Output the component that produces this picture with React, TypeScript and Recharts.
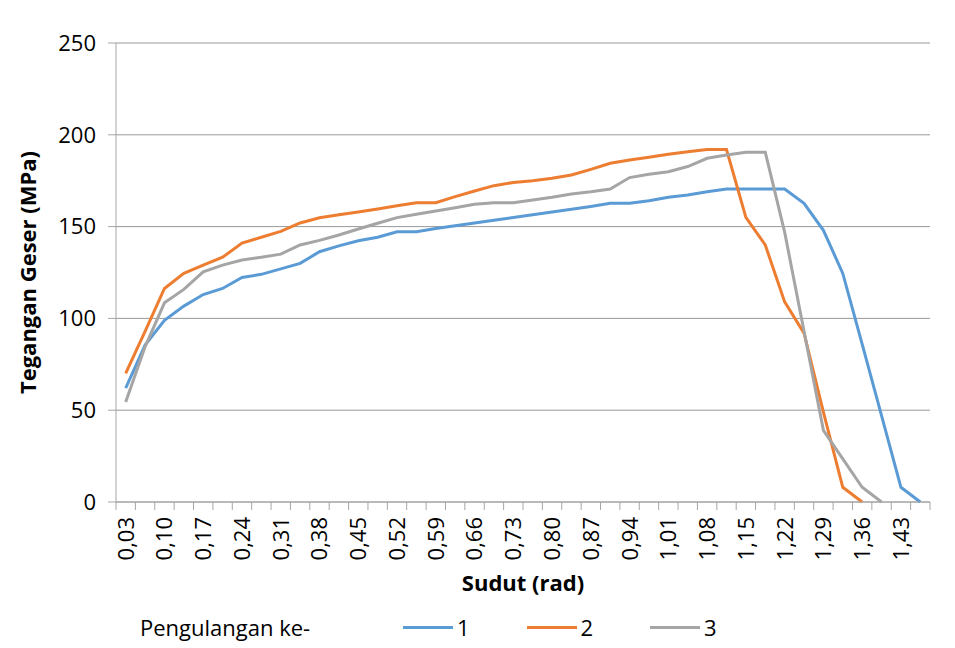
import React from 'react';
import { LineChart, Line, XAxis, YAxis, CartesianGrid, Legend } from 'recharts';

// Sudut (rad) categories
const categories = [
  '0,03', '0,07', '0,10', '0,14', '0,17', '0,21', '0,24', '0,28', '0,31', '0,35',
  '0,38', '0,42', '0,45', '0,49', '0,52', '0,56', '0,59', '0,63', '0,66', '0,70',
  '0,73', '0,77', '0,80', '0,84', '0,87', '0,91', '0,94', '0,98', '1,01', '1,05',
  '1,08', '1,12', '1,15', '1,19', '1,22', '1,26', '1,29', '1,33', '1,36', '1,40',
  '1,43', '1,47',
];

// Pengulangan ke-1
const series1 = [
  62, 85.5, 99, 106.7, 113, 116.3, 122.3, 124, 127, 130,
  136.3, 139.5, 142.3, 144.2, 147.2, 147.2, 149, 150.5, 152, 153.5,
  155, 156.5, 158, 159.4, 161, 162.7, 162.7, 164.1, 166, 167.2,
  169, 170.5, 170.5, 170.5, 170.5, 162.7, 148, 124.5, 86, 47,
  8, 0,
];

// Pengulangan ke-2
const series2 = [
  70, 93, 116.3, 124.5, 129, 133.3, 141, 144.2, 147.4, 152,
  154.8, 156.5, 158, 159.6, 161.4, 163, 163, 166.3, 169.4, 172.3,
  174, 175, 176.3, 178.1, 181.2, 184.5, 186.3, 187.8, 189.4, 190.8,
  192, 192, 155, 140, 109, 92, 49, 8, 0, null,
  null, null,
];

// Pengulangan ke-3
const series3 = [
  54.5, 84.5, 108.5, 115.8, 125.4, 129, 131.8, 133.3, 135, 140,
  142.5, 145.4, 148.7, 151.8, 154.9, 156.7, 158.5, 160.3, 162.2, 163,
  163, 164.5, 166, 167.8, 169, 170.5, 176.7, 178.5, 179.9, 182.7,
  187.2, 189, 190.5, 190.5, 147, 93, 39, 23.5, 8, 0,
  null, null,
];

const yTicks = [0, 50, 100, 150, 200, 250];
const seriesNames = ['1', '2', '3'];
const seriesColors = ['#5B9BD5', '#ED7D31', '#A5A5A5'];
const xTitle = 'Sudut (rad)';
const yTitle = 'Tegangan Geser (MPa)';
const legendTitle = 'Pengulangan ke-';

const data = categories.map((c, i) => ({
  x: c,
  s1: series1[i],
  s2: series2[i],
  s3: series3[i],
}));

const FONT = '"Open Sans", "DejaVu Sans", sans-serif';
const AXIS_COLOR = '#a6a6a6';
const GRID_COLOR = '#999999';
const FS = 22;

function XTick(props: any) {
  const { x, y, payload, index, visibleTicksCount } = props;
  const off = payload && payload.offset ? payload.offset : 0;
  const isLast = index === visibleTicksCount - 1;
  return (
    <g>
      <line x1={x - off} y1={y} x2={x - off} y2={y + 8} stroke={AXIS_COLOR} strokeWidth={1} />
      {isLast && (
        <line x1={x + off} y1={y} x2={x + off} y2={y + 8} stroke={AXIS_COLOR} strokeWidth={1} />
      )}
      {index % 2 === 0 && (
        <text
          transform={`translate(${x},${y + 15}) rotate(-90)`}
          textAnchor="end"
          dy="0.36em"
          fontSize={FS}
          fontFamily={FONT}
          fill="#000"
        >
          {payload.value}
        </text>
      )}
    </g>
  );
}

function YTitle(props: any) {
  const vb = props.viewBox || { x: 0, y: 0, width: 0, height: 0 };
  const cx = vb.x + 27;
  const cy = vb.y + vb.height / 2;
  return (
    <text
      transform={`translate(${cx},${cy}) rotate(-90)`}
      textAnchor="middle"
      dominantBaseline="central"
      fontSize={FS}
      fontWeight="bold"
      fontFamily={FONT}
      fill="#000"
    >
      {yTitle}
    </text>
  );
}

function XTitle(props: any) {
  const vb = props.viewBox || { x: 0, y: 0, width: 0, height: 0 };
  return (
    <text
      x={vb.x + vb.width / 2}
      y={vb.y + 80}
      textAnchor="middle"
      dominantBaseline="central"
      fontSize={FS}
      fontWeight="bold"
      fontFamily={FONT}
      fill="#000"
    >
      {xTitle}
    </text>
  );
}

function LegendContent(props: any) {
  const payload = props.payload || [];
  return (
    <div
      style={{
        position: 'relative',
        width: 955,
        height: 40,
        fontFamily: FONT,
        fontSize: FS,
        color: '#000',
      }}
    >
      <span style={{ position: 'absolute', left: 140, top: 4, lineHeight: '30px', whiteSpace: 'nowrap' }}>
        {legendTitle}
      </span>
      {payload.map((p: any, i: number) => (
        <div
          key={i}
          style={{
            position: 'absolute',
            left: 403 + i * 123.5,
            top: 4,
            height: 30,
            display: 'flex',
            alignItems: 'center',
            whiteSpace: 'nowrap',
          }}
        >
          <span style={{ display: 'inline-block', width: 50, height: 3, background: p.color, marginRight: 4 }} />
          <span style={{ lineHeight: '30px' }}>{p.value}</span>
        </div>
      ))}
    </div>
  );
}

export default function App() {
  return (
    <div style={{ position: 'absolute', left: 0, top: 0, width: 955, height: 648, background: '#ffffff' }}>
      <LineChart
        width={955}
        height={648}
        data={data}
        margin={{ top: 43, right: 25, bottom: 0, left: 0 }}
      >
        <CartesianGrid horizontal={true} vertical={false} stroke={GRID_COLOR} strokeWidth={1} />
        <XAxis
          dataKey="x"
          type="category"
          scale="band"
          interval={0}
          height={106}
          tickLine={false}
          tickSize={0}
          tickMargin={0}
          axisLine={{ stroke: AXIS_COLOR, strokeWidth: 1 }}
          tick={<XTick />}
          label={<XTitle />}
        />
        <YAxis
          type="number"
          domain={[0, 250]}
          ticks={yTicks}
          width={116}
          tickSize={8}
          tickMargin={12}
          tickLine={{ stroke: AXIS_COLOR }}
          axisLine={{ stroke: AXIS_COLOR, strokeWidth: 1 }}
          tick={{ fontSize: FS, fill: '#000', fontFamily: FONT }}
          label={<YTitle />}
        />
        <Legend
          verticalAlign="bottom"
          height={40}
          wrapperStyle={{ left: 0, bottom: 0, width: 955, height: 40 }}
          content={<LegendContent />}
        />
        <Line
          type="linear"
          dataKey="s1"
          name={seriesNames[0]}
          stroke={seriesColors[0]}
          strokeWidth={3}
          dot={false}
          activeDot={false}
          isAnimationActive={false}
        />
        <Line
          type="linear"
          dataKey="s2"
          name={seriesNames[1]}
          stroke={seriesColors[1]}
          strokeWidth={3}
          dot={false}
          activeDot={false}
          isAnimationActive={false}
        />
        <Line
          type="linear"
          dataKey="s3"
          name={seriesNames[2]}
          stroke={seriesColors[2]}
          strokeWidth={3}
          dot={false}
          activeDot={false}
          isAnimationActive={false}
        />
      </LineChart>
    </div>
  );
}
